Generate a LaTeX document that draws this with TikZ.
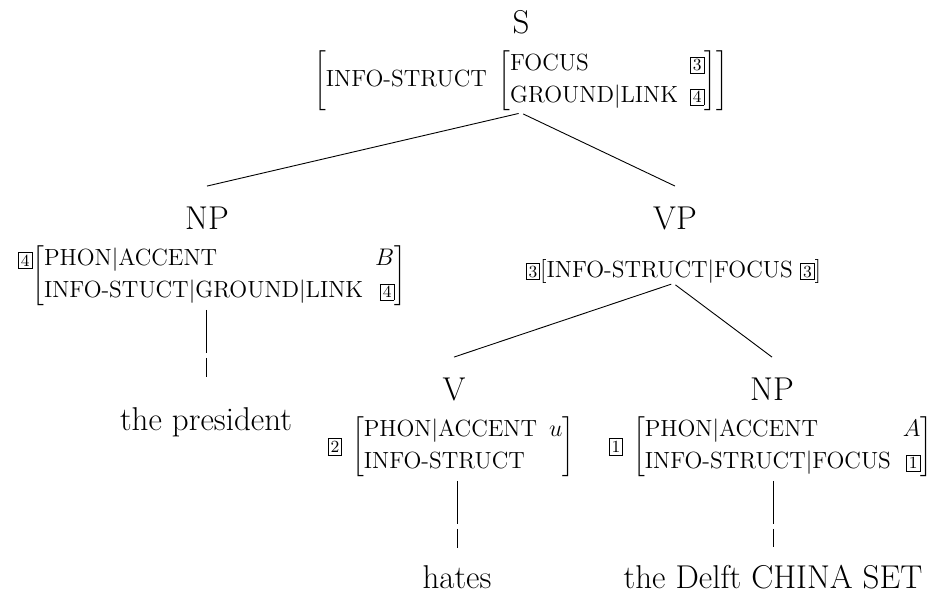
\documentclass[tikz,border=0pt]{standalone}
\usepackage{fontspec}
\newcommand{\tg}[1]{{\setlength{\fboxsep}{1pt}\setlength{\fboxrule}{0.4pt}\fbox{\fontsize{8.5}{9}\selectfont #1}}}
\newcommand{\rtg}[1]{\raisebox{7.7pt}{\tg{#1}}}
\newcommand{\avmsize}{\fontsize{11.7}{16}\selectfont}
\tikzset{
  lab/.style={font=\fontsize{16.5}{19}\selectfont, inner xsep=0pt, inner ysep=10pt, anchor=base},
  avm/.style={font=\avmsize, inner sep=0pt},
  word/.style={font=\fontsize{16.5}{19}\selectfont, inner xsep=0pt, inner ysep=0pt, anchor=base},
  branch/.style={line width=0.45pt, shorten <=1.2pt},
  leaf/.style={line width=0.45pt, shorten <=1pt, shorten >=#1, dash pattern=on 21.5pt off 2.5pt on 40pt},
}
\begin{document}
\begin{tikzpicture}[x=0.5pt,y=-0.5pt]
\useasboundingbox (0,0) rectangle (936,601);
% S
\node[lab] (S) at (521,33) {S};
\node[avm] (Savm) at (521,80.5) {$\left[\mbox{INFO-STRUCT}\ \left[\begin{tabular}{@{}l@{\hspace{6pt}}r@{}}FOCUS & \tg{3}\\ GROUND|LINK & \tg{4}\end{tabular}\right]\right]$};
% NP left
\node[lab] (NPa) at (207,229) {NP};
\node[avm] (NPavm) at (212,275.5) {\rtg{4}$\left[\begin{tabular}{@{}l@{\hspace{6pt}}r@{}}PHON|ACCENT & $B$\\ INFO-STUCT|GROUND|LINK & \tg{4}\end{tabular}\right]$};
\node[word] (w1) at (206,430) {the president};
% VP
\node[lab] (VP) at (675,229) {VP};
\node[avm] (VPavm) at (673.5,271) {\tg{3}$\left[\mbox{INFO-STRUCT|FOCUS}\ \tg{3}\right]$};
% V
\node[lab] (V) at (454,400) {V};
\node[avm] (Vavm) at (451,446.5) {\tg{2}\hspace{5pt}$\left[\begin{tabular}{@{}l@{\hspace{6pt}}r@{}}PHON|ACCENT & $u$\\ INFO-STRUCT & \end{tabular}\right]$};
\node[word] (w2) at (457,588) {hates};
% NP right
\node[lab] (NPb) at (772,400) {NP};
\node[avm] (NPbavm) at (770.5,446.5) {\tg{1}\hspace{5pt}$\left[\begin{tabular}{@{}l@{\hspace{6pt}}r@{}}PHON|ACCENT & $A$\\ INFO-STRUCT|FOCUS & \tg{1}\end{tabular}\right]$};
\node[word] (w3) at (773,588) {the Delft CHINA SET};
% branches
\draw[branch] (Savm.south) -- (NPa.north);
\draw[branch] (Savm.south) -- (VP.north);
\draw[branch] (VPavm.south) -- (V.north);
\draw[branch] (VPavm.south) -- (NPb.north);
\draw[leaf=15pt] (NPavm.south -| w1.north) -- (w1.north);
\draw[leaf=8.5pt] (Vavm.south -| w2.north) -- (w2.north);
\draw[leaf=8.5pt] (NPbavm.south -| w3.north) -- (w3.north);
\end{tikzpicture}
\end{document}
